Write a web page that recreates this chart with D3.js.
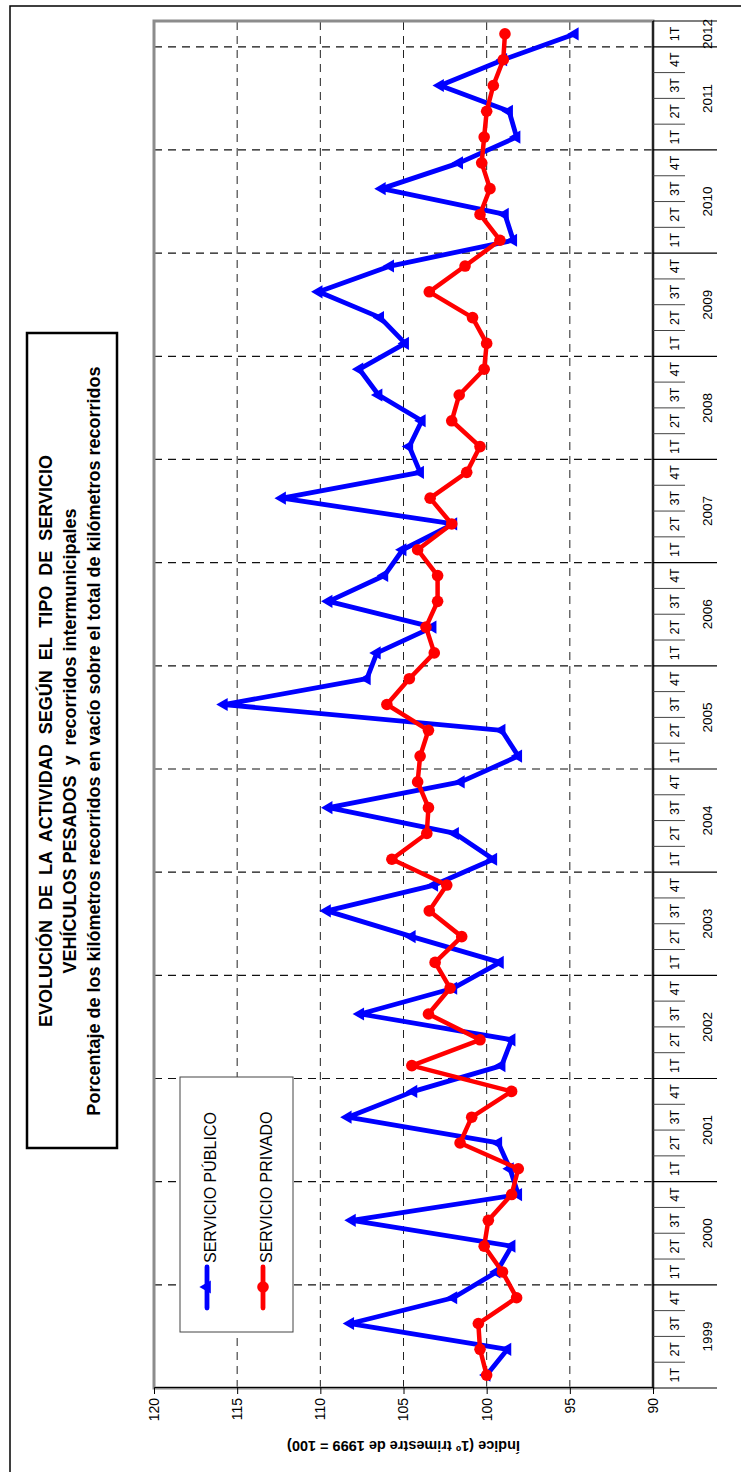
<!DOCTYPE html>
<html><head><meta charset="utf-8">
<script src="https://cdn.jsdelivr.net/npm/d3@7"></script>
<style>
html,body{margin:0;padding:0;background:#fff;}
svg{display:block;font-family:"Liberation Sans",Arial,sans-serif;}
</style></head>
<body>
<svg id="chart" width="741" height="1472"></svg>
<script>
// ---- data ----
const years = [1999,2000,2001,2002,2003,2004,2005,2006,2007,2008,2009,2010,2011,2012];
const quarterNames = ["1T","2T","3T","4T"];
const publico = [
  100.0, 98.75, 108.2, 102.0,
  99.4, 98.5, 108.1, 98.1,
  98.6, 99.3, 108.35, 104.4,
  99.1, 98.5, 107.6, 102.0,
  99.2, 104.5, 109.6, 103.15,
  99.6, 101.9, 109.5, 101.55,
  98.1, 99.1, 115.8, 107.2,
  106.6, 103.25, 109.5, 106.15,
  105.05, 102.0, 112.3, 104.0,
  104.65, 103.9, 106.5, 107.65,
  104.9, 106.4, 110.1, 105.8,
  98.4, 98.9, 106.3, 101.65,
  98.2, 98.65, 102.8, 99.0,
  94.7
];
const privado = [
  100.0, 100.4, 100.5, 98.2,
  99.05, 100.15, 99.9, 98.5,
  98.1, 101.6, 100.9, 98.5,
  104.5, 100.4, 103.5, 102.2,
  103.1, 101.5, 103.45, 102.4,
  105.7, 103.6, 103.5, 104.15,
  104.0, 103.5, 106.0, 104.65,
  103.15, 103.65, 102.95, 102.95,
  104.15, 102.1, 103.4, 101.2,
  100.4, 102.1, 101.65, 100.15,
  100.0, 100.85, 103.45, 101.3,
  99.2, 100.4, 99.8, 100.3,
  100.15, 100.0, 99.6, 99.0,
  98.9
];
const valueTicks = [90,95,100,105,110,115,120];
const seriesNames = ["SERVICIO PÚBLICO","SERVICIO PRIVADO"];
const titleLines = [
  "EVOLUCIÓN  DE  LA  ACTIVIDAD  SEGÚN  EL  TIPO  DE  SERVICIO",
  "VEHÍCULOS PESADOS  y  recorridos intermunicipales",
  "Porcentaje de los kilómetros recorridos en vacío sobre el total de kilómetros recorridos"
];
const axisTitle = "Índice (1º trimestre de 1999 = 100)";

// ---- layout (chart drawn in its natural orientation, then rotated -90°) ----
const svg = d3.select("#chart");
svg.append("rect").attr("x",10).attr("y",6).attr("width",745).attr("height",1480)
  .attr("fill","none").attr("stroke","#000").attr("stroke-width",1.5);

const W = 1367, H = 499;
const g = svg.append("g").attr("transform","translate(154,1388) rotate(-90)");

const n = publico.length;
const periods = d3.range(n).map(i => ({i, year: years[Math.floor(i/4)], q: quarterNames[i%4]}));
const x = d3.scaleBand().domain(d3.range(n)).range([0,W]).padding(0);
const y = d3.scaleLinear().domain([90,120]).range([H,0]);
const cx = i => x(i) + x.bandwidth()/2;
const edge = i => i >= n ? W : x(i);

// value gridlines
g.append("g").selectAll("line").data(valueTicks.filter(v => v>90 && v<120)).join("line")
  .attr("x1",0).attr("x2",W).attr("y1",d=>y(d)).attr("y2",d=>y(d))
  .attr("stroke","#222").attr("stroke-width",1).attr("stroke-dasharray","8,6");

// year boundaries
const yearStarts = years.map((yr,k) => k*4);
g.append("g").selectAll("line").data(yearStarts.filter(s => s>0)).join("line")
  .attr("x1",d=>x(d)).attr("x2",d=>x(d)).attr("y1",0).attr("y2",H)
  .attr("stroke","#111").attr("stroke-width",1.2).attr("stroke-dasharray","8,6");

// plot border
g.append("rect").attr("x",0).attr("y",0).attr("width",W).attr("height",H)
  .attr("fill","none").attr("stroke","#8c8c8c").attr("stroke-width",3);

// value axis
const yAxis = g.append("g").call(d3.axisLeft(y).tickValues(valueTicks).tickSize(6).tickPadding(4));
yAxis.select(".domain").attr("stroke","#000").attr("stroke-width",1);
yAxis.selectAll(".tick line").attr("stroke","#000");
yAxis.selectAll("text").attr("font-size",14).attr("fill","#000")
  .attr("font-family","'Liberation Sans',Arial,sans-serif");

// category axis
const cat = g.append("g").attr("transform",`translate(0,${H})`);
cat.append("line").attr("x1",0).attr("x2",W).attr("y1",0).attr("y2",0)
  .attr("stroke","#000").attr("stroke-width",1.5);
cat.selectAll("line.q").data(d3.range(1,n).filter(i => i%4!==0)).join("line").attr("class","q")
  .attr("x1",d=>x(d)).attr("x2",d=>x(d)).attr("y1",0).attr("y2",32)
  .attr("stroke","#444").attr("stroke-width",1);
cat.selectAll("line.yr").data(yearStarts.concat([n])).join("line").attr("class","yr")
  .attr("x1",d=>edge(d)).attr("x2",d=>edge(d))
  .attr("y1",0).attr("y2",64).attr("stroke","#000").attr("stroke-width",1.2);
cat.selectAll("text.q").data(periods).join("text").attr("class","q")
  .attr("x",d=>cx(d.i)).attr("y",22).attr("dy","0.35em").attr("text-anchor","middle")
  .attr("font-size",12.5).text(d=>d.q);
cat.selectAll("text.yr").data(years).join("text").attr("class","yr")
  .attr("x",(d,k)=>{const s=k*4, e=Math.min(s+4,n); return (edge(s) + edge(e))/2;})
  .attr("y",54).attr("dy","0.35em").attr("text-anchor","middle")
  .attr("font-size",13.5).text(d=>d);

// axis title
g.append("text").attr("transform",`translate(-58,${H/2}) rotate(-90)`)
  .attr("text-anchor","middle").attr("dy","0.35em").attr("font-weight","bold")
  .attr("font-size",14.5).text(axisTitle);

// series
const line = d3.line().x((d,i)=>cx(i)).y(d=>y(d));
g.append("path").datum(publico).attr("d",line).attr("fill","none")
  .attr("stroke","#0000ff").attr("stroke-width",4.8).attr("stroke-linejoin","round");
const tri = d3.symbol().type(d3.symbolTriangle).size(75);
g.append("g").selectAll("path").data(publico).join("path")
  .attr("d",tri).attr("transform",(d,i)=>`translate(${cx(i)},${y(d)})`).attr("fill","#0000ff");
g.append("path").datum(privado).attr("d",line).attr("fill","none")
  .attr("stroke","#ff0000").attr("stroke-width",4.5).attr("stroke-linejoin","round");
g.append("g").selectAll("circle").data(privado).join("circle")
  .attr("cx",(d,i)=>cx(i)).attr("cy",d=>y(d)).attr("r",5.8).attr("fill","#ff0000");

// legend
const lg = g.append("g");
lg.append("rect").attr("x",56).attr("y",26).attr("width",255).attr("height",113)
  .attr("fill","#fff").attr("stroke","#444").attr("stroke-width",1);
const legColors = ["#0000ff","#ff0000"];
const legY = [53,109];
seriesNames.forEach((name,k) => {
  lg.append("line").attr("x1",80).attr("x2",121).attr("y1",legY[k]).attr("y2",legY[k])
    .attr("stroke",legColors[k]).attr("stroke-width",4.8).attr("stroke-linecap","round");
  if (k===0) lg.append("path").attr("d",tri).attr("transform",`translate(101,${legY[k]})`).attr("fill",legColors[k]);
  else lg.append("circle").attr("cx",101).attr("cy",legY[k]).attr("r",5.8).attr("fill",legColors[k]);
  lg.append("text").attr("x",125).attr("y",legY[k]+3).attr("dy","0.35em")
    .attr("font-size",16).text(name);
});

// title box
const tg = g.append("g");
tg.append("rect").attr("x",240).attr("y",-127).attr("width",815).attr("height",90)
  .attr("fill","#fff").attr("stroke","#000").attr("stroke-width",2.5);
const titleY = [-108,-84,-60];
titleLines.forEach((t,k) => {
  tg.append("text").attr("x",647).attr("y",titleY[k]).attr("dy","0.35em")
    .attr("text-anchor","middle").attr("font-weight","bold").attr("font-size",18)
    .style("white-space","pre").text(t);
});
</script>
</body></html>
